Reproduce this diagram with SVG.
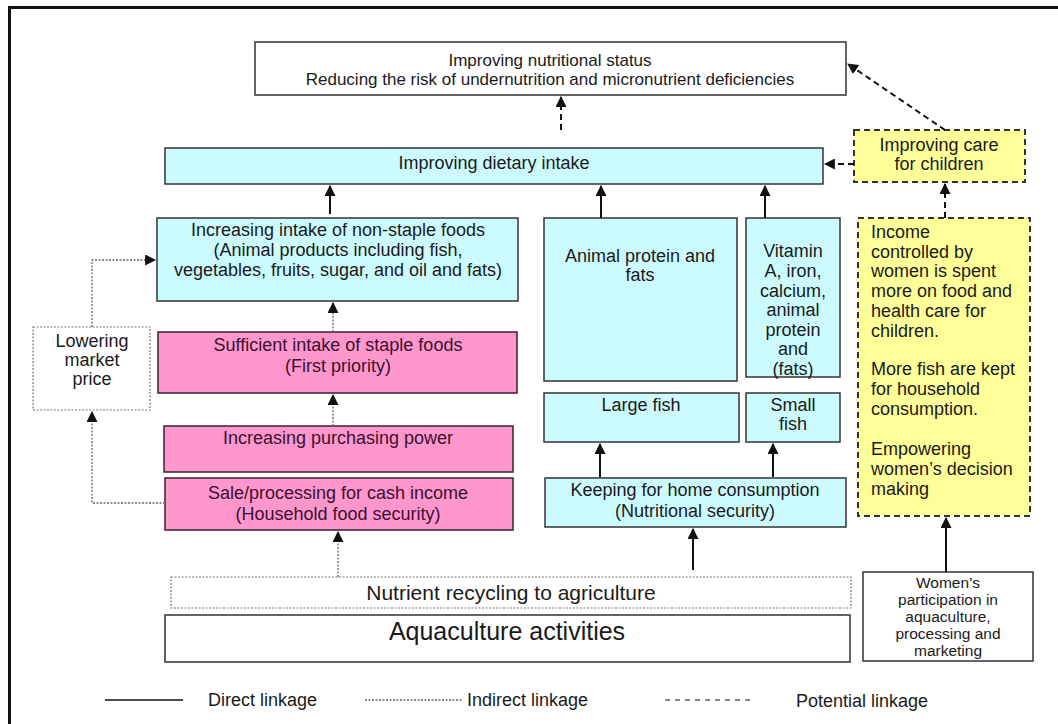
<svg xmlns="http://www.w3.org/2000/svg" width="1058" height="724" viewBox="0 0 1058 724">
<defs>
<style>
text{font-family:"Liberation Sans",Arial,sans-serif;font-size:18px;fill:#1a1a1a;text-anchor:middle}
text.sm{font-size:15.5px}
.w{fill:#fff;stroke:#333;stroke-width:1.5}
.c{fill:#ccfbff;stroke:#333;stroke-width:1.5}
.p{fill:#ff97cc;stroke:#3a2030;stroke-width:1.5}
.y{fill:#ffff99;stroke:#333;stroke-width:2;stroke-dasharray:6 4}
.dot{fill:#fff;stroke:#777;stroke-width:1.2;stroke-dasharray:2 1.5}
.pt text{fill:#3a1030}
.solid{stroke:#111;stroke-width:2;fill:none}
.ind{stroke:#666;stroke-width:1.3;stroke-dasharray:2 1.5;fill:none}
.pot{stroke:#111;stroke-width:2;stroke-dasharray:6 4;fill:none}
.l{text-anchor:start}
</style>
<marker id="ah" viewBox="0 0 10 10" refX="9" refY="5" markerWidth="11" markerHeight="11" markerUnits="userSpaceOnUse" orient="auto">
<path d="M0,0 L10,5 L0,10 z" fill="#111"/>
</marker>
</defs>
<rect x="0" y="0" width="1058" height="724" fill="#fff"/>
<path d="M9.5,724 V7.5 H1058" fill="none" stroke="#111" stroke-width="3"/>

<g id="n_status"><rect class="w" x="255" y="42" width="591" height="53"/>
<text x="550" y="66" style="font-size:17px">Improving nutritional status</text>
<text x="550" y="85" style="font-size:17px">Reducing the risk of undernutrition and micronutrient deficiencies</text></g>

<g id="n_dietary"><rect class="c" x="165" y="148" width="658" height="36"/>
<text x="494" y="169">Improving dietary intake</text></g>

<g id="n_care"><rect class="y" x="854" y="130" width="171" height="52"/>
<text x="939" y="151">Improving care</text>
<text x="939" y="170">for children</text></g>

<g id="n_nonstaple"><rect class="c" x="157" y="218" width="361" height="83"/>
<text x="338" y="236">Increasing intake of non-staple foods</text>
<text x="338" y="256">(Animal products including fish,</text>
<text x="338" y="276">vegetables, fruits, sugar, and oil and fats)</text></g>

<g id="n_animal"><rect class="c" x="544" y="218" width="193" height="163"/>
<text x="640" y="262">Animal protein and</text>
<text x="640" y="281">fats</text></g>

<g id="n_vitamin"><rect class="c" x="746" y="218" width="94" height="159"/>
<text x="793" y="257">Vitamin</text>
<text x="793" y="277">A, iron,</text>
<text x="793" y="297">calcium,</text>
<text x="793" y="316">animal</text>
<text x="793" y="336">protein</text>
<text x="793" y="355">and</text>
<text x="793" y="375">(fats)</text></g>

<g id="n_income"><rect class="y" x="858" y="218" width="172" height="298"/>
<text class="l" x="871" y="238">Income</text>
<text class="l" x="871" y="258">controlled by</text>
<text class="l" x="871" y="277">women is spent</text>
<text class="l" x="871" y="297">more on food and</text>
<text class="l" x="871" y="317">health care for</text>
<text class="l" x="871" y="337">children.</text>
<text class="l" x="871" y="375">More fish are kept</text>
<text class="l" x="871" y="395">for household</text>
<text class="l" x="871" y="415">consumption.</text>
<text class="l" x="871" y="455">Empowering</text>
<text class="l" x="871" y="475">women’s decision</text>
<text class="l" x="871" y="495">making</text></g>

<g id="n_lowering"><rect class="dot" x="33" y="327" width="117" height="83"/>
<text x="92" y="347">Lowering</text>
<text x="92" y="366">market</text>
<text x="92" y="385">price</text></g>

<g id="n_sufficient" class="pt"><rect class="p" x="158" y="332" width="359" height="61"/>
<text x="338" y="351">Sufficient intake of staple foods</text>
<text x="338" y="372">(First priority)</text></g>

<g id="n_largefish"><rect class="c" x="544" y="393" width="195" height="49"/>
<text x="641" y="411">Large fish</text></g>

<g id="n_smallfish"><rect class="c" x="746" y="393" width="94" height="49"/>
<text x="793" y="411">Small</text>
<text x="793" y="430">fish</text></g>

<g id="n_purchasing" class="pt"><rect class="p" x="164" y="426" width="349" height="46"/>
<text x="338" y="444">Increasing purchasing power</text></g>

<g id="n_sale" class="pt"><rect class="p" x="165" y="478" width="348" height="52"/>
<text x="338" y="499">Sale/processing for cash income</text>
<text x="338" y="520">(Household food security)</text></g>

<g id="n_keeping"><rect class="c" x="545" y="478" width="301" height="49"/>
<text x="695" y="496">Keeping for home consumption</text>
<text x="695" y="517">(Nutritional security)</text></g>

<g id="n_recycling"><rect class="dot" x="171" y="577" width="680" height="31"/>
<text x="511" y="600" style="font-size:21px">Nutrient recycling to agriculture</text></g>

<g id="n_aquaculture"><rect class="w" x="165" y="615" width="685" height="47"/>
<text x="507" y="640" style="font-size:25px">Aquaculture activities</text></g>

<g id="n_women"><rect class="w" x="863" y="572" width="170" height="89"/>
<text class="sm" x="948" y="588">Women’s</text>
<text class="sm" x="948" y="605">participation in</text>
<text class="sm" x="948" y="622">aquaculture,</text>
<text class="sm" x="948" y="639">processing and</text>
<text class="sm" x="948" y="656">marketing</text></g>

<g id="connectors">
<path class="pot" d="M561,130 V97" marker-end="url(#ah)"/>
<path class="solid" d="M330,214 V186" marker-end="url(#ah)"/>
<path class="solid" d="M601,218 V186" marker-end="url(#ah)"/>
<path class="solid" d="M765,218 V186" marker-end="url(#ah)"/>
<path class="pot" d="M854,164 H825" marker-end="url(#ah)"/>
<path class="pot" d="M945,130 L848,64" marker-end="url(#ah)"/>
<path class="pot" d="M945,218 V184" marker-end="url(#ah)"/>
<path class="ind" d="M333,332 V303" marker-end="url(#ah)"/>
<path class="ind" d="M333,426 V395" marker-end="url(#ah)"/>
<path class="ind" d="M92,327 V260 H155" marker-end="url(#ah)"/>
<path class="ind" d="M165,503 H92 V412" marker-end="url(#ah)"/>
<path class="ind" d="M338,577 V532" marker-end="url(#ah)"/>
<path class="solid" d="M600,477 V444" marker-end="url(#ah)"/>
<path class="solid" d="M773,477 V444" marker-end="url(#ah)"/>
<path class="solid" d="M693,570 V529" marker-end="url(#ah)"/>
<path class="solid" d="M946,572 V518" marker-end="url(#ah)"/>
</g>

<g id="legend">
<path class="solid" d="M105,700 H183" style="stroke-width:1.5"/>
<text class="l" x="208" y="706">Direct linkage</text>
<path class="ind" d="M365,700 H462"/>
<text class="l" x="467" y="706">Indirect linkage</text>
<path class="pot" d="M665,700 H755" style="stroke-width:1.2;stroke-dasharray:5 5"/>
<text class="l" x="796" y="707">Potential linkage</text>
</g>
</svg>
